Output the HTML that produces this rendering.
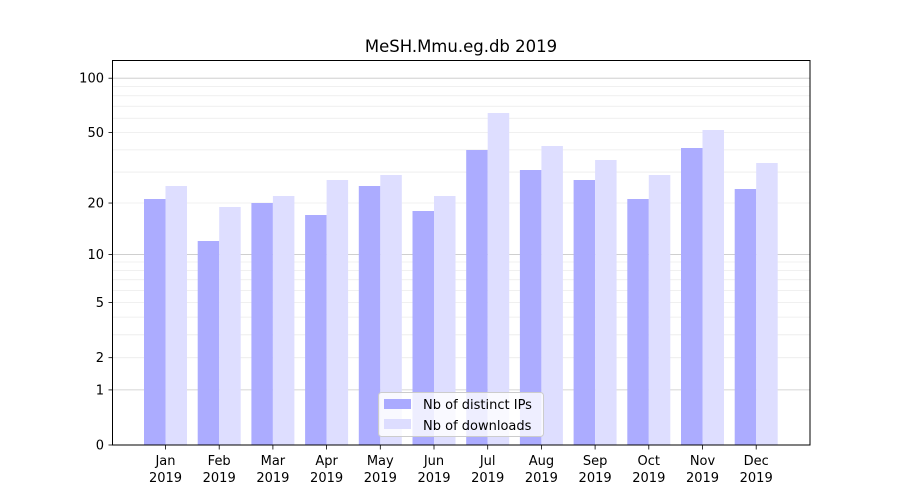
<!DOCTYPE html>
<html><head><meta charset="utf-8"><style>
body{margin:0;background:#fff}
svg{display:block;font-family:"DejaVu Sans","Liberation Sans",sans-serif}
</style></head><body>
<svg id="s" width="900" height="500" xmlns="http://www.w3.org/2000/svg"></svg>
<script>
const s=document.getElementById('s');let h='';
const Y=v=>445-183*Math.log10(v+1);
h+='<rect width="900" height="500" fill="#fff"/>';
for(const d of [1,10]){for(let k=2;k<=9;k++){const y=Y(k*d);h+=`<line x1="113" x2="810" y1="${y}" y2="${y}" stroke="#ebebeb" stroke-width="0.8"/>`;}}
for(const v of [1,10,100]){const y=Y(v);h+=`<line x1="113" x2="810" y1="${y}" y2="${y}" stroke="#c8c8c8" stroke-width="0.8"/>`;}
const dark=[199,241,203,215,186,211,150,170,180,199,148,189];
const light=[186,207,196,180,175,196,113,146,160,175,130,163];
const m=['Jan','Feb','Mar','Apr','May','Jun','Jul','Aug','Sep','Oct','Nov','Dec'];
for(let i=0;i<12;i++){const c=165.5+i*53.7;
h+=`<rect x="${c-21.5}" y="${dark[i]}" width="21.5" height="${445-dark[i]}" fill="#aaaaff" fill-opacity="0.98"/>`;
h+=`<rect x="${c}" y="${light[i]}" width="21.5" height="${445-light[i]}" fill="#ddddff" fill-opacity="0.98"/>`;
h+=`<line x1="${c}" x2="${c}" y1="445" y2="449.5" stroke="#000" stroke-width="0.8"/>`;
h+=`<text x="${c}" y="465" font-size="13" text-anchor="middle">${m[i]}</text><text x="${c}" y="482" font-size="13" text-anchor="middle">2019</text>`;}
for(const v of [0,1,2,5,10,20,50,100]){const y=Y(v);h+=`<line x1="108.5" x2="113" y1="${y}" y2="${y}" stroke="#000" stroke-width="0.8"/><text x="104" y="${y+4.5}" font-size="13" text-anchor="end">${v}</text>`;}
h+='<rect x="112.5" y="60.5" width="697.5" height="384.5" fill="none" stroke="#000" stroke-width="1"/>';
h+='<text x="461" y="52" font-size="16.5" text-anchor="middle">MeSH.Mmu.eg.db 2019</text>';
h+='<rect x="378.5" y="392.5" width="165" height="44" rx="3" fill="#fff" fill-opacity="0.8" stroke="#ccc" stroke-width="1"/>';
h+='<rect x="384" y="399" width="27" height="10" fill="#aaaaff"/><text x="423" y="409" font-size="13">Nb of distinct IPs</text>';
h+='<rect x="384" y="419" width="27" height="10" fill="#ddddff"/><text x="423" y="430" font-size="13">Nb of downloads</text>';
s.innerHTML=h;
</script>
</body></html>
